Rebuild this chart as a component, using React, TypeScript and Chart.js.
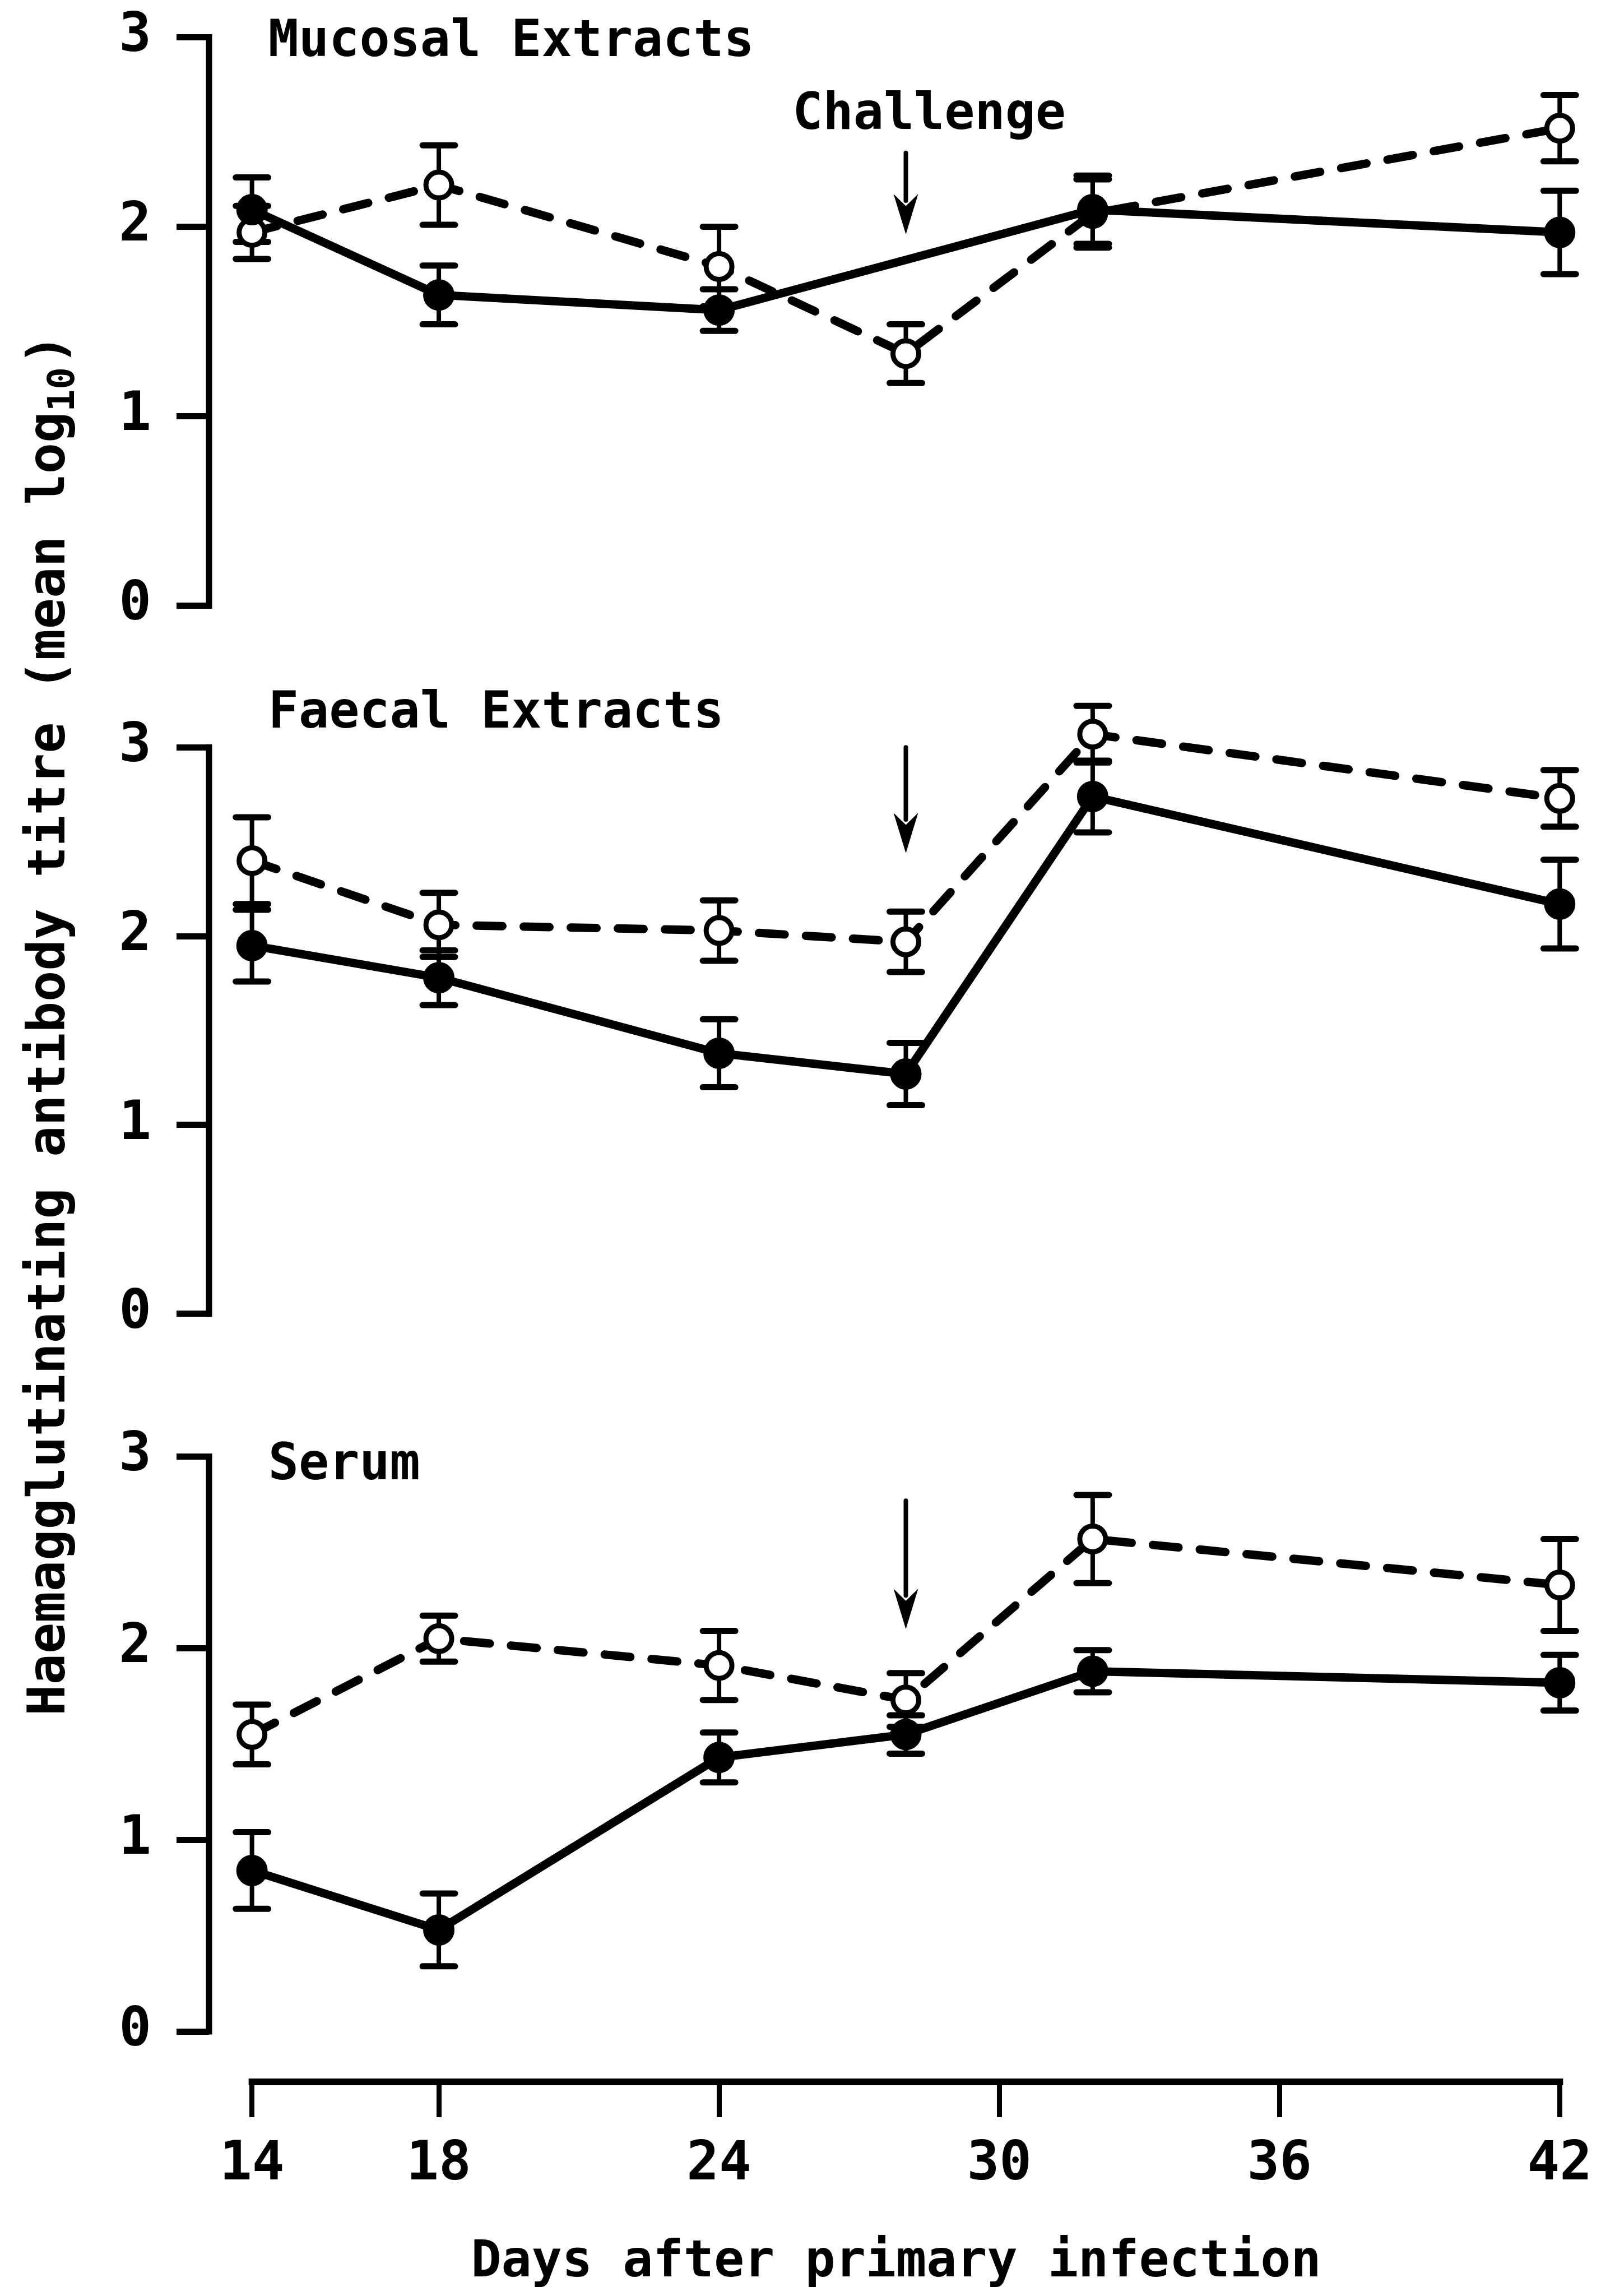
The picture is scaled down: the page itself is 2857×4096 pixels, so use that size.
import React, { useEffect, useRef } from "react";
import { Chart, registerables } from "chart.js";

Chart.register(...registerables);

// ---------------- data ----------------
const days = [14, 18, 24, 28, 32, 42];
const xTickValues = [14, 18, 24, 30, 36, 42];
const yTickValues = [0, 1, 2, 3];

const panelTitles = ["Mucosal Extracts", "Faecal Extracts", "Serum"];
const xTitle = "Days after primary infection";
const yTitleMain = "Haemagglutinating antibody titre (mean log";
const yTitleSub = "10";
const yTitleTail = ")";

const mucosalFilled = [2.09, 1.64, 1.56, null, 2.09, 1.97];
const mucosalFilledErr = [0.17, 0.155, 0.11, null, 0.18, 0.22];
const mucosalOpen = [1.97, 2.22, 1.79, 1.33, 2.07, 2.52];
const mucosalOpenErr = [0.14, 0.21, 0.21, 0.155, 0.18, 0.175];

const faecalFilled = [1.95, 1.78, 1.38, 1.27, 2.74, 2.17];
const faecalFilledErr = [0.19, 0.145, 0.18, 0.165, 0.19, 0.235];
const faecalOpen = [2.4, 2.06, 2.03, 1.97, 3.07, 2.73];
const faecalOpenErr = [0.23, 0.17, 0.16, 0.16, 0.15, 0.15];

const serumFilled = [0.84, 0.53, 1.43, 1.55, 1.88, 1.82];
const serumFilledErr = [0.2, 0.19, 0.13, 0.1, 0.11, 0.145];
const serumOpen = [1.55, 2.05, 1.91, 1.73, 2.57, 2.33];
const serumOpenErr = [0.156, 0.12, 0.18, 0.14, 0.23, 0.24];

const challengeLabel = "Challenge";
const challengeDay = 28;
const challengeLabelDay = 28.5;
const challengeLabelValue = 2.585;
const arrowTopValues = [2.39, 3.0, 2.77];
const arrowTipValues = [1.96, 2.44, 2.1];

const titleDay = 14.35;
const titleValues = [2.97, 3.175, 2.95];

// ---------------- layout / style ----------------
const W = 2857;
const H = 4096;
const FONT = "'DejaVu Sans Mono', monospace";
const AXIS_W = 373;
const XAXIS_H = 382;
const Y_IDS = ["y1", "y2", "y3"];
const Y_RANGES = [
  { min: -0.3726, max: 3.102, stackWeight: 1175, weight: 3 },
  { min: -0.377, max: 3.377, stackWeight: 1265, weight: 2 },
  { min: -0.263, max: 3.374, stackWeight: 1244, weight: 1 },
];

function makeDataset(values: (number | null)[], errs: (number | null)[], axis: string, filled: boolean) {
  return {
    data: days.map((d, i) => ({ x: d, y: values[i] })),
    errors: errs,
    yAxisID: axis,
    borderColor: "#000",
    borderWidth: 15,
    borderDash: filled ? [] : [46, 38],
    borderCapStyle: filled ? "butt" : "round",
    pointStyle: "circle",
    pointRadius: filled ? 27 : 23,
    pointBorderWidth: filled ? 2 : 9,
    pointBackgroundColor: filled ? "#000" : "#fff",
    pointBorderColor: "#000",
    pointHoverRadius: filled ? 27 : 23,
    spanGaps: true,
    tension: 0,
    fill: false,
  };
}

function yScale(i: number) {
  const r = Y_RANGES[i];
  return {
    type: "linear",
    position: "left",
    stack: "panels",
    stackWeight: r.stackWeight,
    weight: r.weight,
    min: r.min,
    max: r.max,
    afterBuildTicks: (s: any) => {
      s.ticks = yTickValues.map((v) => ({ value: v }));
    },
    afterFit: (s: any) => {
      s.width = AXIS_W;
      s.paddingTop = 0;
      s.paddingBottom = 0;
    },
    grid: { drawOnChartArea: false, drawTicks: true, tickLength: 58, lineWidth: 11, color: "#000" },
    border: { display: false },
    ticks: { color: "#000", padding: 45, autoSkip: false, font: { family: FONT, size: 96, weight: "bold" } },
  };
}

const decorPlugin = {
  id: "decor",
  beforeDatasetsDraw(chart: any) {
    const ctx = chart.ctx;
    const xs = chart.scales.x;
    const area = chart.chartArea;
    ctx.save();
    ctx.strokeStyle = "#000";
    ctx.fillStyle = "#000";
    // y axis lines
    ctx.lineWidth = 11;
    ctx.lineCap = "square";
    Y_IDS.forEach((id) => {
      const s = chart.scales[id];
      ctx.beginPath();
      ctx.moveTo(area.left, s.getPixelForValue(yTickValues[yTickValues.length - 1]));
      ctx.lineTo(area.left, s.getPixelForValue(yTickValues[0]));
      ctx.stroke();
    });
    // x axis line
    ctx.lineWidth = 12;
    ctx.beginPath();
    ctx.moveTo(xs.getPixelForValue(xTickValues[0]), area.bottom);
    ctx.lineTo(xs.getPixelForValue(xTickValues[xTickValues.length - 1]), area.bottom);
    ctx.stroke();
    // error bars
    ctx.lineCap = "round";
    chart.data.datasets.forEach((ds: any) => {
      const ys = chart.scales[ds.yAxisID];
      ds.data.forEach((p: any, j: number) => {
        const e = ds.errors[j];
        if (p.y == null || e == null) return;
        const x = xs.getPixelForValue(p.x);
        const yt = ys.getPixelForValue(p.y + e);
        const yb = ys.getPixelForValue(p.y - e);
        ctx.lineWidth = 8;
        ctx.beginPath();
        ctx.moveTo(x, yt);
        ctx.lineTo(x, yb);
        ctx.stroke();
        ctx.lineWidth = 11;
        ctx.beginPath();
        ctx.moveTo(x - 29, yt);
        ctx.lineTo(x + 29, yt);
        ctx.moveTo(x - 29, yb);
        ctx.lineTo(x + 29, yb);
        ctx.stroke();
      });
    });
    ctx.restore();
  },
  afterDraw(chart: any) {
    const ctx = chart.ctx;
    const xs = chart.scales.x;
    ctx.save();
    ctx.fillStyle = "#000";
    ctx.strokeStyle = "#000";
    // panel titles
    ctx.font = `bold 90px ${FONT}`;
    ctx.textAlign = "left";
    ctx.textBaseline = "middle";
    panelTitles.forEach((t, i) => {
      const s = chart.scales[Y_IDS[i]];
      ctx.fillText(t, xs.getPixelForValue(titleDay), s.getPixelForValue(titleValues[i]));
    });
    // challenge label
    ctx.textAlign = "center";
    ctx.fillText(challengeLabel, xs.getPixelForValue(challengeLabelDay), chart.scales.y1.getPixelForValue(challengeLabelValue));
    // arrows
    const ax = xs.getPixelForValue(challengeDay);
    Y_IDS.forEach((id, i) => {
      const s = chart.scales[id];
      const yTop = s.getPixelForValue(arrowTopValues[i]);
      const yTip = s.getPixelForValue(arrowTipValues[i]);
      const headLen = 72;
      const headW = 44;
      ctx.lineWidth = 8;
      ctx.lineCap = "round";
      ctx.beginPath();
      ctx.moveTo(ax, yTop);
      ctx.lineTo(ax, yTip - headLen + 12);
      ctx.stroke();
      ctx.beginPath();
      ctx.moveTo(ax, yTip);
      ctx.lineTo(ax - headW / 2, yTip - headLen);
      ctx.lineTo(ax, yTip - headLen * 0.7);
      ctx.lineTo(ax + headW / 2, yTip - headLen);
      ctx.closePath();
      ctx.fill();
    });
    // y axis title (rotated, with subscript)
    const yc = (chart.scales.y1.getPixelForValue(3) + chart.scales.y3.getPixelForValue(0)) / 2 - 15;
    ctx.translate(91, yc);
    ctx.rotate(-Math.PI / 2);
    ctx.textAlign = "left";
    ctx.textBaseline = "middle";
    const mainFont = `bold 92px ${FONT}`;
    const subFont = `bold 66px ${FONT}`;
    ctx.font = mainFont;
    const w1 = ctx.measureText(yTitleMain).width;
    const w3 = ctx.measureText(yTitleTail).width;
    ctx.font = subFont;
    const w2 = ctx.measureText(yTitleSub).width;
    const start = -(w1 + w2 + w3) / 2;
    ctx.font = mainFont;
    ctx.fillText(yTitleMain, start, 0);
    ctx.font = subFont;
    ctx.fillText(yTitleSub, start + w1, 24);
    ctx.font = mainFont;
    ctx.fillText(yTitleTail, start + w1 + w2 + 4, 0);
    ctx.restore();
  },
};

export default function App() {
  const ref = useRef<HTMLCanvasElement>(null);
  useEffect(() => {
    const canvas = ref.current;
    if (!canvas) return;
    const chart = new Chart(canvas, {
      type: "line",
      data: {
        datasets: [
          makeDataset(mucosalFilled, mucosalFilledErr, "y1", true),
          makeDataset(mucosalOpen, mucosalOpenErr, "y1", false),
          makeDataset(faecalFilled, faecalFilledErr, "y2", true),
          makeDataset(faecalOpen, faecalOpenErr, "y2", false),
          makeDataset(serumFilled, serumFilledErr, "y3", true),
          makeDataset(serumOpen, serumOpenErr, "y3", false),
        ] as any,
      },
      options: {
        animation: false,
        responsive: false,
        devicePixelRatio: 1,
        layout: { padding: { left: 0, top: 30, right: 26, bottom: 0 } },
        plugins: { legend: { display: false }, tooltip: { enabled: false } },
        events: [],
        scales: {
          x: {
            type: "linear",
            position: "bottom",
            min: 13.08,
            max: 42.5,
            afterBuildTicks: (s: any) => {
              s.ticks = xTickValues.map((v) => ({ value: v }));
            },
            afterFit: (s: any) => {
              s.height = XAXIS_H;
              s.paddingLeft = 0;
              s.paddingRight = 0;
            },
            grid: { drawOnChartArea: false, drawTicks: true, tickLength: 63, lineWidth: 9, color: "#000" },
            border: { display: false },
            ticks: {
              color: "#000",
              padding: 28,
              autoSkip: false,
              maxRotation: 0,
              font: { family: FONT, size: 96, weight: "bold" },
            },
            title: {
              display: true,
              text: xTitle,
              color: "#000",
              font: { family: FONT, size: 90, weight: "bold" },
              padding: { top: 0, bottom: 4 },
            },
          },
          y1: yScale(0),
          y2: yScale(1),
          y3: yScale(2),
        } as any,
      },
      plugins: [decorPlugin],
    } as any);
    return () => chart.destroy();
  }, []);
  return (
    <div style={{ position: "absolute", left: 0, top: 0, width: W, height: H, background: "#fff" }}>
      <canvas ref={ref} width={W} height={H} style={{ display: "block", width: W, height: H }} />
    </div>
  );
}
